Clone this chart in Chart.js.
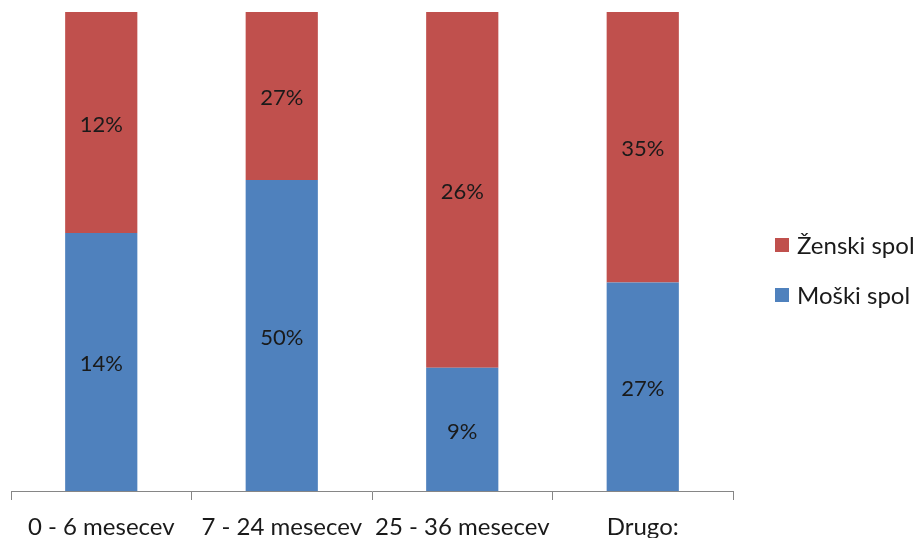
<!DOCTYPE html>
<html>
<head>
<meta charset="utf-8">
<script src="https://cdn.jsdelivr.net/npm/chart.js@4/dist/chart.umd.min.js"></script>
<style>
  html, body { margin: 0; padding: 0; background: #ffffff; }
  #wrap { width: 916px; height: 538px; }
</style>
</head>
<body>
<div id="wrap"><canvas id="c" width="916" height="538"></canvas></div>
<script>
// Age groups and the share of each sex within them (percent)
const categories = ['0 - 6 mesecev', '7 - 24 mesecev', '25 - 36 mesecev', 'Drugo:'];
const moski = [14, 50, 9, 27];
const zenski = [12, 27, 26, 35];
const seriesNames = ['Moški spol', 'Ženski spol'];
const seriesColors = ['#4F81BD', '#C0504D'];

const FONT = 'Lato, "Liberation Sans", sans-serif';

// 100% stacked: each bar is normalised to the group total
const totals = categories.map((_, i) => moski[i] + zenski[i]);
const toShare = arr => arr.map((v, i) => v / totals[i] * 100);

const raw = [moski, zenski];

// Value labels in the middle of each segment
const segmentLabels = {
  id: 'segmentLabels',
  afterDatasetsDraw(chart) {
    const ctx = chart.ctx;
    ctx.save();
    ctx.font = '22px ' + FONT;
    ctx.fillStyle = '#1a1a1a';
    ctx.textAlign = 'center';
    ctx.textBaseline = 'middle';
    chart.data.datasets.forEach((ds, di) => {
      const meta = chart.getDatasetMeta(di);
      meta.data.forEach((bar, i) => {
        const y = (bar.y + bar.base) / 2 + 2;
        ctx.fillText(raw[di][i] + '%', bar.x, y);
      });
    });
    ctx.restore();
  }
};

// Legend on the right, listed top-down in reverse stacking order
const sideLegend = {
  id: 'sideLegend',
  afterDraw(chart) {
    const ctx = chart.ctx;
    ctx.save();
    ctx.font = '24px ' + FONT;
    ctx.textBaseline = 'middle';
    ctx.textAlign = 'left';
    const items = [1, 0];
    const x0 = 775, y0 = 245, gap = 50, box = 14;
    items.forEach((di, k) => {
      const y = y0 + k * gap;
      ctx.fillStyle = chart.data.datasets[di].backgroundColor;
      ctx.fillRect(x0, y - box / 2, box, box);
      ctx.fillStyle = '#1a1a1a';
      ctx.fillText(chart.data.datasets[di].label, x0 + 22, y + 1);
    });
    ctx.restore();
  }
};

new Chart(document.getElementById('c'), {
  type: 'bar',
  data: {
    labels: categories,
    datasets: [
      { label: seriesNames[0], data: toShare(moski), backgroundColor: seriesColors[0], barPercentage: 0.4, categoryPercentage: 1.0 },
      { label: seriesNames[1], data: toShare(zenski), backgroundColor: seriesColors[1], barPercentage: 0.4, categoryPercentage: 1.0 }
    ]
  },
  options: {
    responsive: false,
    animation: false,
    layout: { padding: { left: 11, right: 183, top: 12, bottom: 0 } },
    plugins: { legend: { display: false }, tooltip: { enabled: false } },
    scales: {
      x: {
        stacked: true,
        afterFit(scale) { scale.height = 47; },
        grid: { offset: true, drawOnChartArea: false, drawTicks: true, tickLength: 9, color: '#868686', lineWidth: 1 },
        border: { display: true, color: '#868686', width: 1 },
        ticks: { color: '#1a1a1a', font: { family: FONT, size: 24, lineHeight: 1.0 }, padding: 15, maxRotation: 0, autoSkip: false }
      },
      y: {
        stacked: true,
        display: false,
        min: 0,
        max: 100
      }
    }
  },
  plugins: [segmentLabels, sideLegend]
});
</script>
</body>
</html>
